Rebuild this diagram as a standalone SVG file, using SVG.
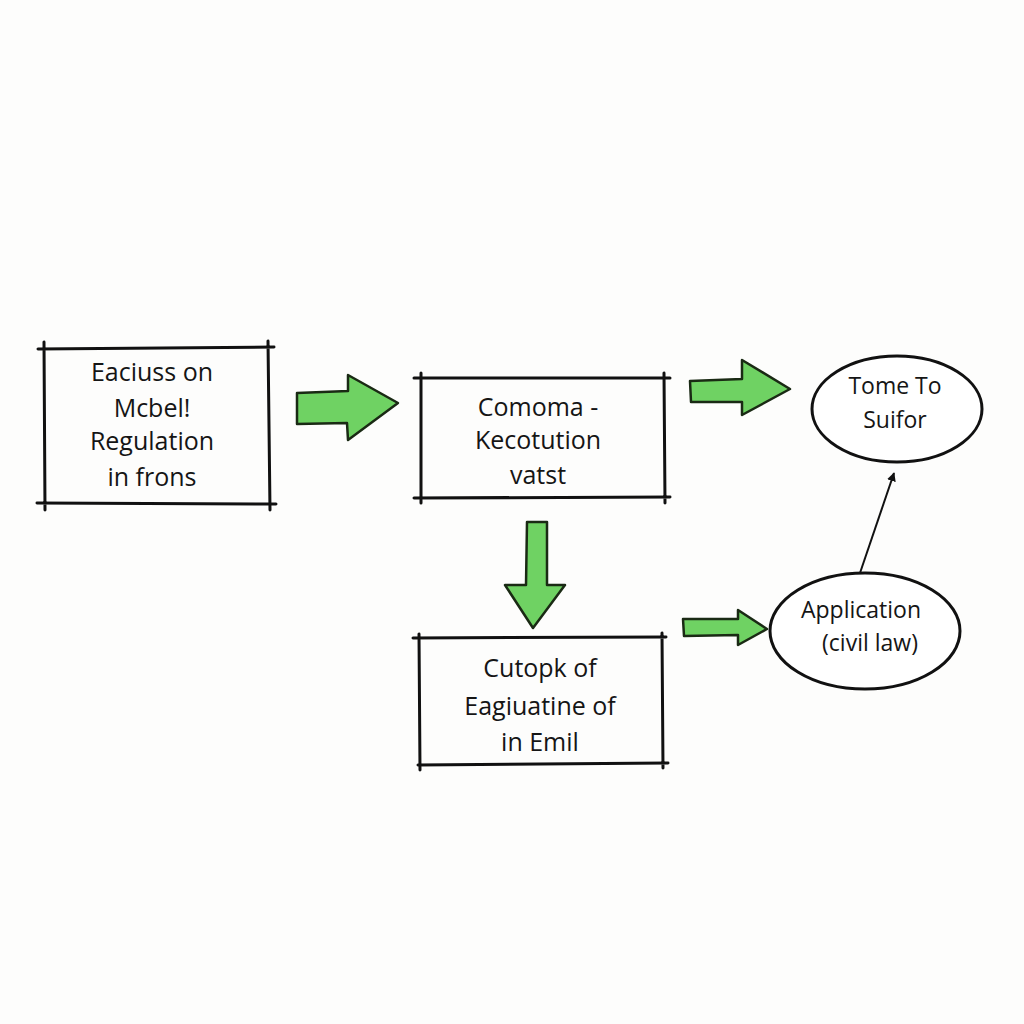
<svg xmlns="http://www.w3.org/2000/svg" width="1024" height="1024" viewBox="0 0 1024 1024">
<style>
.bg{fill:#fdfdfc}
.edge{stroke:#111;stroke-width:3;fill:none;stroke-linecap:round}
.oval{stroke:#111;stroke-width:3;fill:#fff}
.garrow{fill:#6fd263;stroke:#1a2a14;stroke-width:2.5;stroke-linejoin:round}
.t{font-family:"Open Sans","DejaVu Sans",sans-serif;font-size:25px;fill:#151515;text-anchor:middle}
.s{font-size:23px}
.thin{stroke:#111;stroke-width:2;fill:none}
</style>
<defs>
<marker id="ah" viewBox="0 0 10 10" refX="9" refY="5" markerWidth="9" markerHeight="9" orient="auto" markerUnits="userSpaceOnUse">
<path d="M0,0 L10,5 L0,10 z" fill="#111"/>
</marker>
</defs>
<rect class="bg" x="0" y="0" width="1024" height="1024"/>

<g id="node-box1">
<path class="edge" d="M38,349 L274,347 M37,503 L276,504 M44,342 L45,510 M268,341 L270,510"/>
<text class="t" x="152" y="381">Eaciuss on</text>
<text class="t" x="152" y="417">Mcbel!</text>
<text class="t" x="152" y="450">Regulation</text>
<text class="t" x="152" y="486">in frons</text>
</g>

<g id="node-box2">
<path class="edge" d="M414,378 L670,378 M414,498 L670,497 M421,373 L421,503 M664,373 L665,503"/>
<text class="t" x="538" y="416">Comoma -</text>
<text class="t" x="538" y="449">Kecotution</text>
<text class="t" x="538" y="484">vatst</text>
</g>

<g id="node-box3">
<path class="edge" d="M413,638 L666,637 M418,765 L668,763 M419,634 L420,770 M662,633 L663,768"/>
<text class="t" x="540" y="677">Cutopk of</text>
<text class="t" x="540" y="715">Eagiuatine of</text>
<text class="t" x="540" y="751">in Emil</text>
</g>

<g id="node-oval1">
<ellipse class="oval" cx="897" cy="409" rx="85" ry="53"/>
<text class="t s" x="895" y="394">Tome To</text>
<text class="t s" x="895" y="428">Suifor</text>
</g>

<g id="node-oval2">
<ellipse class="oval" cx="865" cy="631" rx="95" ry="58"/>
<text class="t s" x="861" y="618">Application</text>
<text class="t s" x="870" y="651">(civil law)</text>
</g>

<g id="connectors">
<polygon class="garrow" points="297,393 348,391 348,375 398,403 348,440 347,423 297,424"/>
<polygon class="garrow" points="690,381 742,379 742,360 790,389 742,415 742,402 691,402"/>
<polygon class="garrow" points="527,522 547,522 547,585 565,585 533,628 505,585 526,585"/>
<polygon class="garrow" points="683,619 738,619 738,610 767,629 738,645 738,635 684,636"/>
<line class="thin" x1="860" y1="573" x2="894" y2="473" marker-end="url(#ah)"/>
</g>
</svg>
